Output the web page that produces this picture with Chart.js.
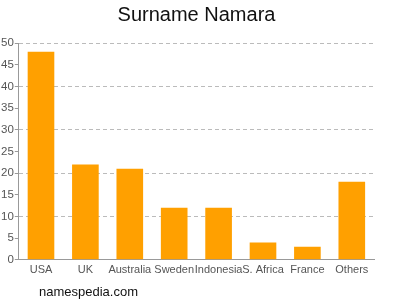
<!DOCTYPE html>
<html>
<head>
<meta charset="utf-8">
<script src="https://cdn.jsdelivr.net/npm/chart.js@4"></script>
<style>
  html, body { margin: 0; padding: 0; background: #fff; }
  #wrap { width: 400px; height: 300px; }
</style>
</head>
<body>
<div id="wrap"><canvas id="myChart"></canvas></div>
<script>
var countries = ['USA', 'UK', 'Australia', 'Sweden', 'Indonesia', 'S. Africa', 'France', 'Others'];
var counts = [48, 22, 21, 12, 12, 4, 3, 18];
var yTicks = [0, 5, 10, 15, 20, 25, 30, 35, 40, 45, 50];

// footer text at bottom left
var footer = {
    id: 'footer',
    afterDraw: function (chart) {
        var c = chart.ctx;
        c.save();
        c.font = '13px "Liberation Sans", Arial, sans-serif';
        c.fillStyle = '#111';
        c.textBaseline = 'middle';
        c.fillText('namespedia.com', 39, 292);
        c.restore();
    }
};

var ctx = document.getElementById('myChart').getContext('2d');
var myChart = new Chart(ctx, {
    type: 'bar',
    data: {
        labels: countries,
        datasets: [{
            label: 'Surname Namara',
            data: counts,
            backgroundColor: '#ffa000',
            borderWidth: 0,
            barPercentage: 0.6,
            categoryPercentage: 1
        }]
    },
    options: {
        responsive: true,
        maintainAspectRatio: false,
        animation: false,
        layout: { padding: { left: 0, right: 7, top: 0, bottom: 19 } },
        plugins: {
            legend: { display: false },
            tooltip: { enabled: false },
            title: {
                display: true,
                text: 'Surname Namara',
                color: '#111',
                font: { family: '"Liberation Sans", Arial, sans-serif', size: 20, weight: 'normal' },
                padding: { top: 3, bottom: 16 }
            }
        },
        scales: {
            x: {
                afterFit: function (s) { s.paddingRight = 26; },
                grid: { display: false, drawTicks: false },
                border: { color: '#999' },
                ticks: {
                    color: '#555',
                    font: { family: '"Liberation Sans", Arial, sans-serif', size: 11 },
                    maxRotation: 0,
                    autoSkip: false,
                    padding: 4
                }
            },
            y: {
                min: yTicks[0],
                max: yTicks[yTicks.length - 1],
                afterBuildTicks: function (axis) {
                    axis.ticks = yTicks.map(function (v) { return { value: v }; });
                },
                grid: {
                    color: function (c) {
                        return c.tick && c.tick.value % 10 === 0 && c.tick.value > 0 ? '#bbb' : 'rgba(0,0,0,0)';
                    },
                    tickColor: '#999',
                    tickLength: 4,
                    tickBorderDash: []
                },
                border: { color: '#999', dash: [4, 3] },
                ticks: {
                    color: '#555',
                    font: { family: '"Liberation Sans", Arial, sans-serif', size: 11.5 },
                    padding: 1
                }
            }
        }
    },
    plugins: [footer]
});
</script>
</body>
</html>
